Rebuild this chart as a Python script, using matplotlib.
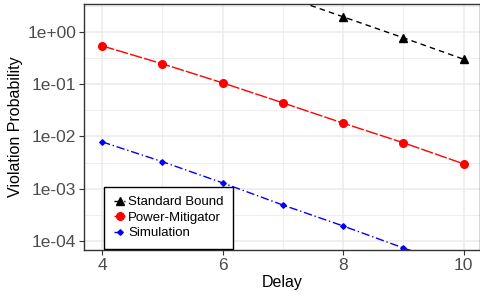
import numpy as np
import matplotlib
matplotlib.use('Agg')
import matplotlib.pyplot as plt
import matplotlib.ticker as mticker

plt.rcParams['font.family'] = ['Liberation Sans', 'DejaVu Sans']

delay = [4, 5, 6, 7, 8, 9, 10]
standard_bound = [78.0, 31.0, 12.0, 4.9, 1.94, 0.77, 0.30]
power_mitigator = [0.54, 0.245, 0.106, 0.044, 0.018, 0.0076, 0.0030]
simulation = [0.0079, 0.0033, 0.0013, 0.00049, 0.000195, 7.4e-5, 3.0e-5]

fig = plt.figure(figsize=(4.8, 2.98), dpi=100)
ax = fig.add_axes([0.175, 0.161, 0.826, 0.826])

ax.plot(delay, standard_bound, color='black', linestyle=(0, (4, 3)), linewidth=1.0,
        marker='^', markersize=5.5, label='Standard Bound')
ax.plot(delay, power_mitigator, color='red', linestyle=(0, (9, 1.5)), linewidth=1.0,
        marker='o', markersize=5.5, label='Power-Mitigator')
ax.plot(delay, simulation, color='blue', linestyle=(0, (6, 2, 1, 2)), linewidth=1.0,
        marker='D', markersize=2.8, label='Simulation')

ax.set_yscale('log')
ax.set_xlim(3.70, 10.28)
ax.set_ylim(10 ** -4.17, 10 ** 0.535)

# grid like ggplot theme_bw
ax.set_xticks([4, 6, 8, 10])
ax.set_xticks([5, 7, 9], minor=True)
ax.set_yticks([1e0, 1e-1, 1e-2, 1e-3, 1e-4])
ax.set_yticklabels(['1e+00', '1e-01', '1e-02', '1e-03', '1e-04'])
ax.yaxis.set_minor_locator(mticker.FixedLocator([10 ** (-k + 0.5) for k in range(0, 5)] + [10 ** 0.5]))
ax.yaxis.set_minor_formatter(mticker.NullFormatter())
ax.grid(True, which='major', color='#EBEBEB', linewidth=1.1)
ax.grid(True, which='minor', color='#EBEBEB', linewidth=0.6)
ax.set_axisbelow(True)

ax.tick_params(which='major', direction='out', length=3.5, color='#333333', width=0.8,
               labelsize=12.5, labelcolor='#4D4D4D', pad=2)
ax.tick_params(which='minor', length=0)
for s in ax.spines.values():
    s.set_color('#333333')
    s.set_linewidth(1.0)

ax.set_xlabel('Delay', fontsize=11.5, labelpad=2)
ax.set_ylabel('Violation Probability', fontsize=11.5, labelpad=3)

leg = ax.legend(loc='lower left', bbox_to_anchor=(0.048, 0.0), fontsize=9.5,
                handlelength=0.9, handletextpad=0.2, labelspacing=0.25,
                borderpad=0.7, borderaxespad=0.1, fancybox=False, framealpha=1)
leg.get_frame().set_edgecolor('black')
leg.get_frame().set_linewidth(1.0)

fig.savefig('out.png', dpi=100)
